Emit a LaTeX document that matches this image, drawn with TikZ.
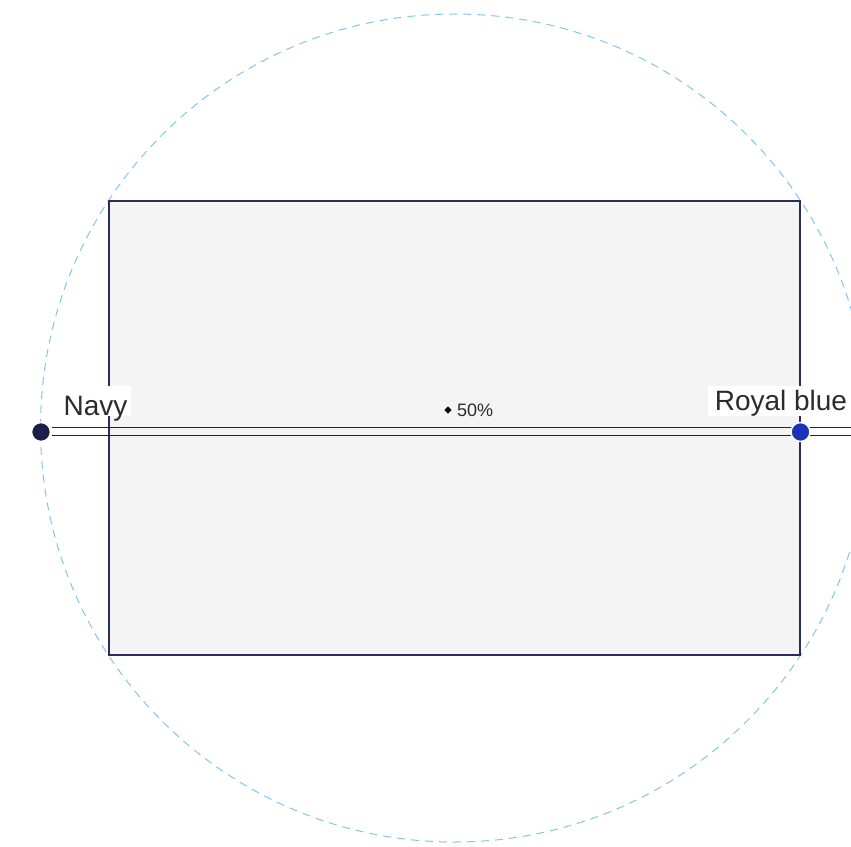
\documentclass[tikz,border=0pt]{standalone}
\usepackage{fontspec}
\setmainfont{Liberation Sans}
\definecolor{panelfill}{HTML}{F4F4F4}
\definecolor{paneledge}{HTML}{2A2C5C}
\definecolor{guideblue}{HTML}{82C3F3}
\definecolor{navystop}{HTML}{1D1F4B}
\definecolor{royalstop}{HTML}{1B33B5}
\definecolor{labelgray}{HTML}{2B2B2B}
\tikzset{
  panel/.style={fill=panelfill, draw=paneledge, line width=1.1pt},
  guide/.style={draw=guideblue, line width=1pt, dash pattern=on 8pt off 6pt},
  rail/.style={draw=black!85, line width=1.1pt},
  stopdot/.style={circle, minimum size=19pt, inner sep=0pt, draw=white, line width=1.5pt},
  stoplabel/.style={fill=white, text=labelgray, inner sep=0pt, font=\fontsize{28}{30}\selectfont},
  midlabel/.style={text=labelgray, inner sep=0pt, font=\fontsize{18}{20}\selectfont},
  midmark/.style={diamond, fill=black, inner sep=0pt, minimum size=7.5pt}
}
\usetikzlibrary{shapes.geometric}
\begin{document}
\begin{tikzpicture}[x=1pt, y=-1pt]
  \useasboundingbox (0,0) rectangle (851,846);
  % angle guide circle
  \draw[guide] (454.5,428) circle (414);
  % gradient box
  \draw[panel] (109,201) rectangle (800,655);
  % gradient axis: two thin rails
  \coordinate (railL) at (52,431.5);
  \coordinate (railR) at (851,431.5);
  \draw[rail] ([yshift=-4pt]railL) -- ([yshift=-4pt]railR);
  \draw[rail] ([yshift=4pt]railL) -- ([yshift=4pt]railR);
  % colour stops
  \node[stopdot, fill=navystop] (navy) at (41,432) {};
  \node[stopdot, fill=royalstop] (royal) at (800.5,432) {};
  % stop labels on white backing
  \node[stoplabel, anchor=base west, text height=29pt, text depth=1pt, minimum width=71pt] (navylbl) at (60,415) {\hspace*{-0.5pt}Navy};
  \node[stoplabel, anchor=base west, text height=24pt, text depth=6pt, minimum width=143pt, align=left] (royallbl) at (708,410) {\hspace*{2.5pt}Royal blue\hfill};
  % midpoint marker
  \node[midmark] (mid) at (448,410) {};
  \node[midlabel, anchor=base west] (midlbl) at (457,416) {50\%};
\end{tikzpicture}
\end{document}
